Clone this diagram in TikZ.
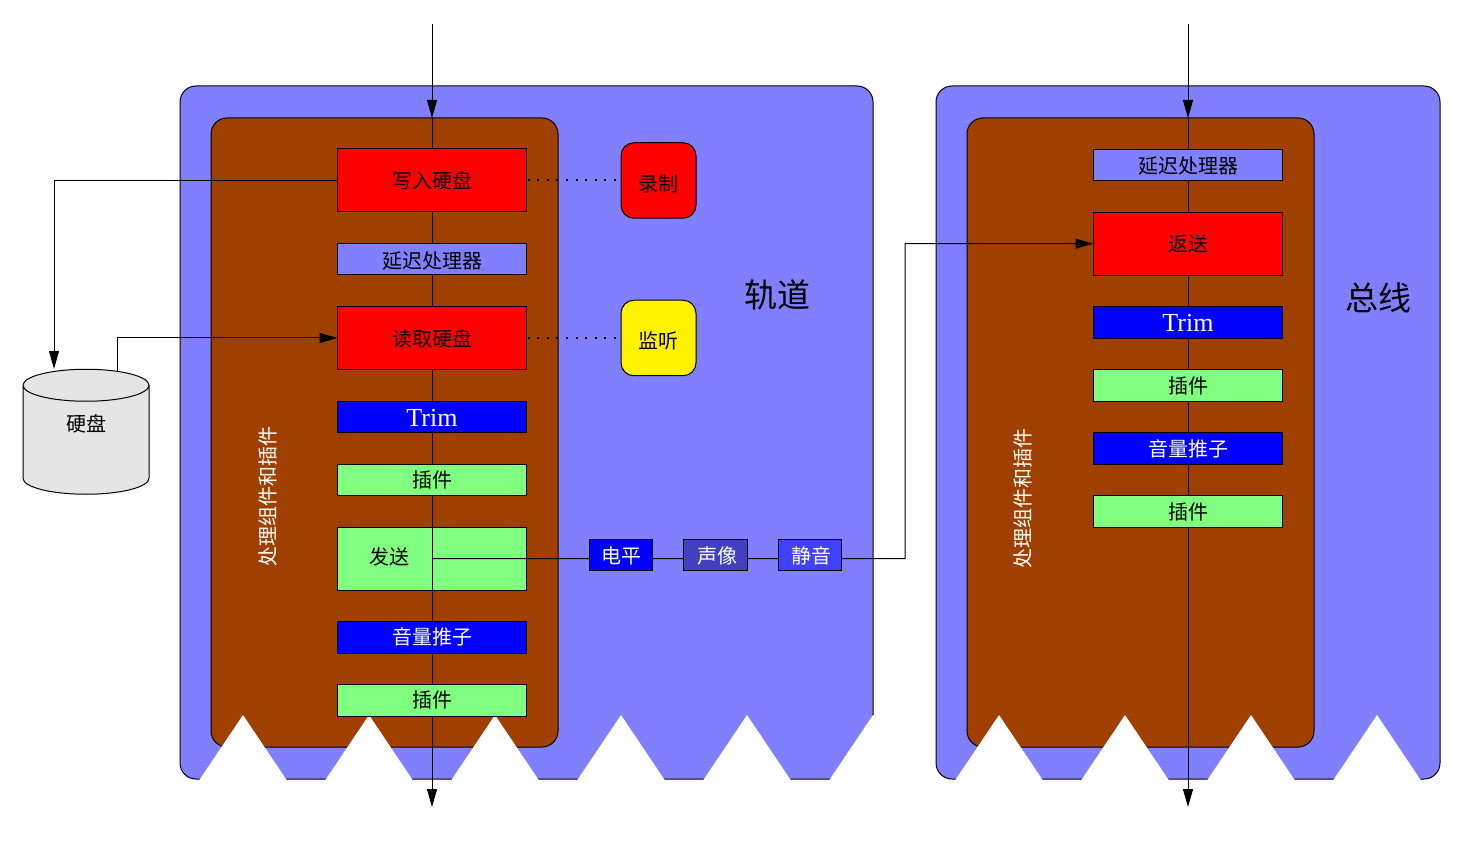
\documentclass[tikz,border=0pt]{standalone}
\usepackage{xcolor}
\usepackage{fontspec}
\setmainfont{Noto Sans CJK SC}
\newfontfamily\trimfont{Liberation Serif}
\usetikzlibrary{arrows.meta,positioning,shapes.geometric}
\definecolor{stripblue}{HTML}{8080FF}
\definecolor{bodybrown}{HTML}{A04000}
\definecolor{plugingreen}{HTML}{80FF80}
\definecolor{pandark}{HTML}{4040C0}
\definecolor{mutelight}{HTML}{4040FF}
\definecolor{diskgray}{HTML}{E5E5E5}
\newcommand{\nudged}[2]{\raisebox{#1}[15pt][0pt]{#2}}

\begin{document}
\begin{tikzpicture}[
  x=1pt,
  y=-1pt,
  line width=1pt,
  outer/.style={
    rectangle,
    rounded corners=16pt,
    draw=black,
    fill=stripblue,
    minimum height=693pt,
    inner sep=0pt,
    outer sep=0pt
  },
  inner/.style={
    rectangle,
    rounded corners=16pt,
    draw=black,
    fill=bodybrown,
    minimum width=347pt,
    minimum height=629pt,
    inner sep=0pt,
    outer sep=0pt
  },
  box/.style={
    rectangle,
    draw=black,
    minimum width=189pt,
    minimum height=31.5pt,
    inner sep=0pt,
    outer sep=0pt,
    font=\fontsize{20}{24}\selectfont
  },
  tall/.style={box, minimum height=63pt, fill=red},
  delaybox/.style={box, fill=stripblue},
  bluebox/.style={box, fill=blue, text=white},
  pluginbox/.style={box, fill=plugingreen},
  trimbox/.style={bluebox, font=\fontsize{26}{30}\trimfont},
  strip/.style={box, minimum width=63.5pt, text=white},
  round/.style={
    rectangle,
    rounded corners=13pt,
    draw=black,
    minimum width=75pt,
    minimum height=75.5pt,
    inner sep=0pt,
    outer sep=0pt,
    font=\fontsize{20}{24}\selectfont
  },
  disk/.style={
    cylinder,
    shape border rotate=90,
    aspect=0.8,
    draw=black,
    fill=diskgray,
    minimum width=126pt,
    minimum height=125pt,
    inner sep=0pt,
    outer sep=0pt,
    font=\fontsize{20}{24}\selectfont
  },
  tag/.style={text=white, rotate=90, inner sep=0pt, font=\fontsize{20}{24}\selectfont},
  title/.style={inner sep=0pt, font=\fontsize{33}{38}\selectfont},
  word/.style={inner sep=0pt, font=\fontsize{20}{24}\selectfont},
  arrow/.style={-{Triangle[length=18pt,width=10pt]}},
  dots/.style={line width=2pt, dash pattern=on 2pt off 7.6pt, shorten <=1pt, shorten >=5pt}
]
\useasboundingbox (0,0) rectangle (1464,866);

\node[outer, minimum width=693pt] (track) at (526.5,432.5) {};
\node[inner] (trackbody) at (384.5,432.5) {};
\node[outer, minimum width=504pt] (bus) at (1188,432.5) {};
\node[inner] (busbody) at (1140.5,432.5) {};

\foreach \tipx in {243,369,495,621,747,999,1125,1251,1377}
  \fill[white] ({\tipx-44},780.5) -- (\tipx,715) -- ({\tipx+44},780.5) -- cycle;
\fill[white] (829,780.5) -- (873,715) -- (875,715) -- (875,780.5) -- cycle;

\coordinate (trackin) at (432,24);
\coordinate (trackout) at (432,807);
\coordinate (busin) at (1188,24);
\coordinate (busout) at (1188,807);
\coordinate (sendout) at (432,558.5);
\coordinate (turn) at (905,243.5);
\coordinate (diskleft) at (54,369);
\coordinate (diskright) at (117,371);

\node[tall] (write) at (432,180.5) {写入硬盘};
\node[delaybox, below=31.5pt of write] (delay) {\nudged{-1.5pt}{延迟处理器}};
\node[tall, below=31.5pt of delay] (read) {\nudged{-1pt}{读取硬盘}};
\node[trimbox, below=31.5pt of read] (trim) {\raisebox{-2pt}[15pt][0pt]{Trim}};
\node[pluginbox, below=31.5pt of trim] (plugin) {插件};
\node[box, fill=plugingreen, minimum height=63pt, below=31.5pt of plugin] (send) {};
\node[word] (sendtext) at (389,557) {发送};
\node[bluebox, below=31.5pt of send] (fader) {音量推子};
\node[pluginbox, below=31.5pt of fader] (post) {插件};

\node[delaybox] (busdelay) at (1188,165) {\nudged{-1pt}{延迟处理器}};
\node[tall, below=31.5pt of busdelay] (return) {返送};
\node[trimbox, below=31.5pt of return] (bustrim) {\raisebox{-2pt}[15pt][0pt]{Trim}};
\node[pluginbox, below=31.5pt of bustrim] (busplugin) {插件};
\node[bluebox, below=31.5pt of busplugin] (busfader) {音量推子};
\node[pluginbox, below=31.5pt of busfader] (buspost) {插件};

\node[round, fill=red] (record) at (658.5,180.5) {\nudged{-4pt}{录制}};
\node[round, fill=yellow] (monitor) at (658.5,338) {\nudged{-3pt}{监听}};

\node[disk] (harddisk) at (86,440) {\nudged{16pt}{硬盘}};

\draw[arrow] (trackin) -- (write |- trackbody.north);
\draw (write |- trackbody.north) -- (write);
\draw (write) -- (delay);
\draw (delay) -- (read);
\draw (read) -- (trim);
\draw (trim) -- (plugin);
\draw (plugin) -- (send);
\draw (send.north) -- (send.south);
\draw (send) -- (fader);
\draw (fader) -- (post);
\draw[arrow] (post) -- (trackout);

\draw[arrow] (busin) -- (busdelay |- busbody.north);
\draw (busdelay |- busbody.north) -- (busdelay);
\draw (busdelay) -- (return);
\draw (return) -- (bustrim);
\draw (bustrim) -- (busplugin);
\draw (busplugin) -- (busfader);
\draw (busfader) -- (buspost);
\draw[arrow] (buspost) -- (busout);

\draw[arrow] (write.west) -| (diskleft);
\draw[arrow] (diskright) |- (read.west);
\draw[dots] (write.east) -- (record.west);
\draw[dots] (read.east) -- (monitor.west);
\draw[arrow] (sendout) -| (turn) -- (return.west);

\node[strip, fill=blue] (level) at (621,555) {\nudged{-1pt}{电平}};
\node[strip, fill=pandark, right=31pt of level] (pan) {\hspace*{3pt}\nudged{-1pt}{声像}};
\node[strip, fill=mutelight, right=31pt of pan] (mute) {\hspace*{3pt}\nudged{-1pt}{静音}};

\node[tag] (tracktag) at (268,496.5) {处理组件和插件};
\node[tag] (bustag) at (1023,498) {处理组件和插件};
\node[title] (tracktitle) at (777,295) {轨道};
\node[title] (bustitle) at (1378,298) {总线};

\end{tikzpicture}
\end{document}
